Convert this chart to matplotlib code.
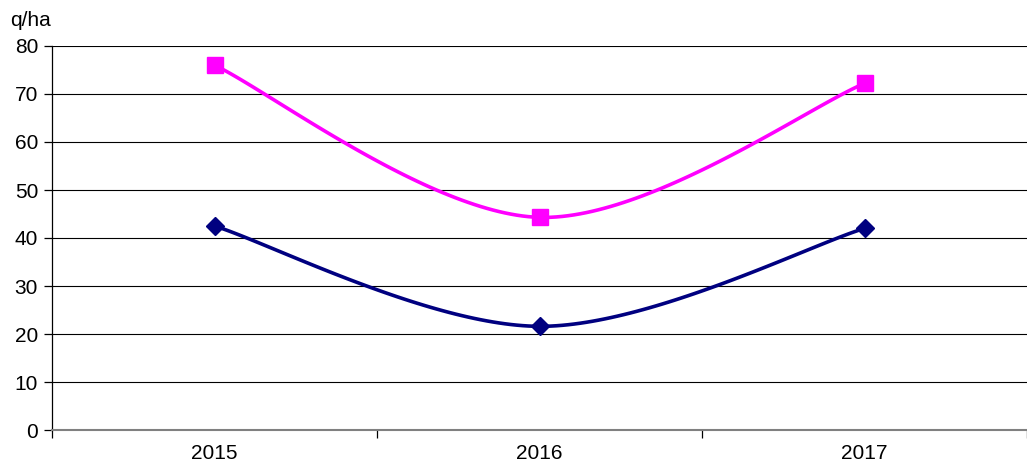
import numpy as np
import matplotlib
matplotlib.use("Agg")
import matplotlib.pyplot as plt

years = ["2015", "2016", "2017"]
series_top = [76.0, 44.3, 72.2]
series_bottom = [42.5, 21.6, 42.0]
y_ticks = [0, 10, 20, 30, 40, 50, 60, 70, 80]
unit_label = "q/ha"

plt.rcParams['font.family'] = ['Liberation Sans', 'DejaVu Sans']


def excel_smooth(xs, ys, n=60):
    pts = np.column_stack([xs, ys]).astype(float)
    out = []
    for i in range(len(pts) - 1):
        p0 = pts[i - 1] if i > 0 else pts[i]
        p1 = pts[i]
        p2 = pts[i + 1]
        p3 = pts[i + 2] if i + 2 < len(pts) else pts[i + 1]
        c1 = p1 + (p2 - p0) / 6.0
        c2 = p2 - (p3 - p1) / 6.0
        t = np.linspace(0, 1, n)[:, None]
        seg = ((1 - t) ** 3) * p1 + 3 * ((1 - t) ** 2) * t * c1 + 3 * (1 - t) * t ** 2 * c2 + t ** 3 * p2
        out.append(seg if i == 0 else seg[1:])
    seg = np.vstack(out)
    return seg[:, 0], seg[:, 1]


fig = plt.figure(figsize=(10.27, 4.68), dpi=100)
ax = fig.add_axes([52 / 1027, (468 - 430) / 468, 1 - 52 / 1027, (430 - 46) / 468])

x = np.arange(len(years))
for vals, col, mk, ms in [(series_top, "#FF00FF", "s", 11.5), (series_bottom, "#000080", "D", 9.5)]:
    sx, sy = excel_smooth(x, vals)
    ax.plot(sx, sy, color=col, lw=2.6, solid_capstyle="round", zorder=3)
    ax.plot(x, vals, linestyle="none", marker=mk, markersize=ms, color=col,
            markeredgecolor=col, zorder=4, clip_on=False)

ax.set_xlim(-0.5, len(years) - 0.5)
ax.set_ylim(0, 80)
ax.set_yticks(y_ticks)
ax.set_yticklabels([str(v) for v in y_ticks], fontsize=15)
for v in y_ticks[1:]:
    ax.axhline(v, color="black", lw=0.8, zorder=1)

ax.set_xticks(np.arange(-0.5, len(years), 1.0))
ax.set_xticklabels([])
ax.set_xticks(x, minor=True)
ax.set_xticklabels(years, minor=True, fontsize=15)
ax.tick_params(axis="x", which="minor", length=0, pad=10)
ax.tick_params(axis="x", which="major", length=6, width=0.9, color="black", direction="out")
ax.tick_params(axis="y", length=6, width=0.9, color="black", direction="out", pad=4)

for s in ["top", "right"]:
    ax.spines[s].set_visible(False)
ax.spines["left"].set_color("black")
ax.spines["left"].set_linewidth(0.9)
ax.spines["bottom"].set_color("#808080")
ax.spines["bottom"].set_linewidth(1.5)

fig.text(10 / 1027, 1 - 21 / 468, unit_label, fontsize=15, va="center", ha="left")

fig.savefig("out.png", dpi=100)
